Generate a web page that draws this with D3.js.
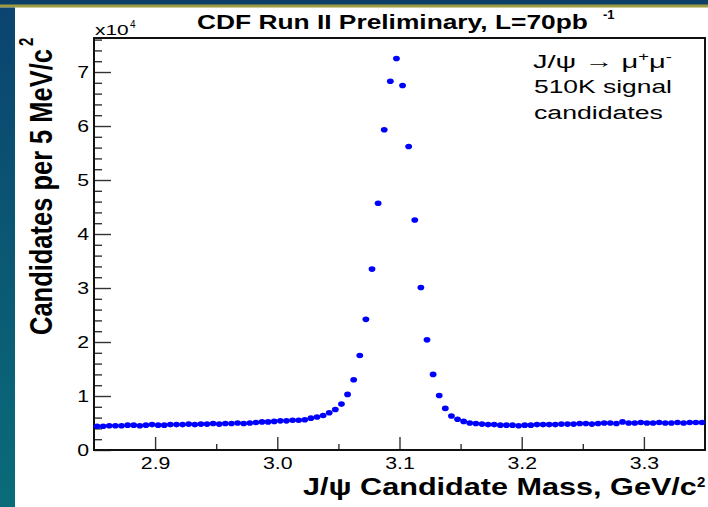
<!DOCTYPE html>
<html>
<head>
<meta charset="utf-8">
<script src="https://cdn.jsdelivr.net/npm/d3@7"></script>
<style>
  html, body { margin: 0; padding: 0; background: #fff; }
  svg { display: block; }
  text { font-family: "Liberation Sans", Arial, Helvetica, sans-serif; fill: #000; }
</style>
</head>
<body>
<svg id="chart" width="708" height="507"></svg>
<script>
// J/psi -> mu+ mu- candidate mass spectrum, 5 MeV bins from 2.85 to 3.35 GeV/c^2
const massLow = 2.85;
const massHigh = 3.35;
const binWidth = 0.005;

const candidateCounts = [
  4400, 4400, 4500, 4500, 4500, 4600, 4600, 4500, 4600, 4700,
  4600, 4600, 4700, 4700, 4700, 4800, 4700, 4800, 4800, 4900,
  4800, 4900, 4900, 5000, 4900, 5000, 5100, 5200, 5200, 5300,
  5400, 5400, 5500, 5500, 5600, 5900, 6100, 6400, 6900, 7500,
  8500, 10300, 13000, 17500, 24200, 33500, 45700, 59300, 68300, 72500,
  67500, 56200, 42600, 30100, 20400, 14000, 10100, 7700, 6300, 5700,
  5300, 5000, 4900, 4800, 4700, 4700, 4600, 4600, 4600, 4500,
  4600, 4600, 4700, 4700, 4700, 4700, 4800, 4800, 4800, 4900,
  4900, 4800, 4900, 5000, 5000, 4900, 5200, 5000, 5000, 5100,
  5000, 5000, 5100, 5000, 5000, 5100, 5000, 5100, 5100, 5100
];

const xMajorTicks = [2.9, 3.0, 3.1, 3.2, 3.3];
const xMinorTicks = [2.95, 3.05, 3.15, 3.25];
const yMajorTicks = [0, 10000, 20000, 30000, 40000, 50000, 60000, 70000];
const yTickLabels = ["0", "1", "2", "3", "4", "5", "6", "7"];
const yMax = 76300;

const bins = candidateCounts.map((count, i) => ({
  mass: massLow + (i + 0.5) * binWidth,
  count
}));

const svg = d3.select("#chart");
const W = 708, H = 507;
const frame = { left: 94, right: 705, top: 38, bottom: 450 };

// slide background: dark top band, olive rule, blue gradient strip at the left
const defs = svg.append("defs");
const grad = defs.append("linearGradient").attr("id", "sideGrad")
  .attr("x1", 0).attr("y1", 0).attr("x2", 0).attr("y2", 1);
grad.append("stop").attr("offset", "0%").attr("stop-color", "#0b4470");
grad.append("stop").attr("offset", "100%").attr("stop-color", "#0a6c79");

svg.append("rect").attr("width", W).attr("height", H).attr("fill", "#fff");
svg.append("rect").attr("x", 0).attr("y", 0).attr("width", W).attr("height", 5).attr("fill", "#0b3f68");
svg.append("rect").attr("x", 0).attr("y", 4.5).attr("width", W).attr("height", 3).attr("fill", "#9d9b3f");
svg.append("rect").attr("x", 0).attr("y", 7.5).attr("width", 15).attr("height", H - 7.5).attr("fill", "url(#sideGrad)");

const x = d3.scaleLinear().domain([massLow, massHigh]).range([frame.left, frame.right]);
const y = d3.scaleLinear().domain([0, yMax]).range([frame.bottom, frame.top]);

const SX = 1.25; // horizontal stretch of the lettering

function stretchLabels(g) {
  g.selectAll(".tick text").each(function () {
    const t = d3.select(this);
    const tx = +t.attr("x") || 0;
    t.attr("x", 0).attr("transform", `translate(${tx},0) scale(${SX},1)`);
  });
}

// x axis: major and minor ticks pointing into the frame
const xAxisG = svg.append("g").attr("transform", `translate(0,${frame.bottom})`)
  .call(d3.axisBottom(x).tickValues(xMajorTicks).tickSize(-13).tickPadding(7)
    .tickFormat(d3.format(".1f")));
svg.append("g").attr("transform", `translate(0,${frame.bottom})`)
  .call(d3.axisBottom(x).tickValues(xMinorTicks).tickSize(-6).tickFormat(""))
  .call(g => g.select(".domain").remove());

// y axis
const yMinor = d3.range(2000, yMax, 2000).filter(v => v % 10000 !== 0);
const yAxisG = svg.append("g").attr("transform", `translate(${frame.left},0)`)
  .call(d3.axisLeft(y).tickValues(yMajorTicks).tickSize(-17).tickPadding(5)
    .tickFormat((d, i) => yTickLabels[i]));
svg.append("g").attr("transform", `translate(${frame.left},0)`)
  .call(d3.axisLeft(y).tickValues(yMinor).tickSize(-8).tickFormat(""))
  .call(g => g.select(".domain").remove());

svg.selectAll(".tick line").attr("stroke", "#333").attr("stroke-width", 1.4);
[xAxisG, yAxisG].forEach(g => {
  g.select(".domain").remove();
  g.selectAll(".tick text").attr("font-size", 17).attr("fill", "#111")
    .attr("font-family", "'Liberation Sans', Arial, sans-serif");
  stretchLabels(g);
});

// frame
svg.append("rect")
  .attr("x", frame.left).attr("y", frame.top)
  .attr("width", frame.right - frame.left).attr("height", frame.bottom - frame.top)
  .attr("fill", "none").attr("stroke", "#111").attr("stroke-width", 2);

// data points
svg.append("g").selectAll("ellipse").data(bins).join("ellipse")
  .attr("cx", d => x(d.mass))
  .attr("cy", d => y(d.count))
  .attr("rx", 3.4).attr("ry", 2.8)
  .attr("fill", "#0000ff");

// text placed at (px, py) and stretched horizontally to span a given width
function fitted(px, py, width, build, attrs = {}) {
  const t = svg.append("text").attr("x", 0).attr("y", 0);
  Object.entries(attrs).forEach(([k, v]) => t.attr(k, v));
  build(t);
  const w = t.node().getBBox().width;
  t.attr("transform", `translate(${px},${py}) scale(${width / w},1)`);
  return t;
}

// title
fitted(197, 29, 391, t => t.text("CDF Run II Preliminary, L=70pb"),
  { "font-size": 20, "font-weight": "bold" });
svg.append("text").attr("x", 603).attr("y", 19).attr("font-size", 13)
  .attr("font-weight", "bold").text("-1");

// axis multiplier
fitted(95, 35, 34, t => t.text("x10"), { "font-size": 14 });
svg.append("text").attr("x", 130).attr("y", 28).attr("font-size", 10).text("4");

// axis titles
fitted(303, 495, 394, t => t.text("J/\u03c8 Candidate Mass, GeV/c"),
  { "font-size": 24, "font-weight": "bold" });
svg.append("text").attr("x", 697).attr("y", 487).attr("font-size", 15)
  .attr("font-weight", "bold").text("2");

// vertical title, widened across the page like the other lettering
const yTitle = svg.append("g").attr("transform", "translate(52,335) rotate(-90) scale(1,1.3)");
yTitle.append("text").attr("x", 0).attr("y", 0)
  .attr("font-size", 24).attr("font-weight", "bold")
  .attr("textLength", 286).attr("lengthAdjust", "spacingAndGlyphs")
  .text("Candidates per 5 MeV/c");
yTitle.append("text").attr("x", 289).attr("y", -14.5)
  .attr("font-size", 15).attr("font-weight", "bold")
  .text("2");

// decay and yield annotation
fitted(533, 68, 139, t => {
  t.append("tspan").text("J/\u03c8 \u2192 \u03bc");
  t.append("tspan").attr("dy", -7).attr("font-size", 12).text("+");
  t.append("tspan").attr("dy", 7).text("\u03bc");
  t.append("tspan").attr("dy", -7).attr("font-size", 12).text("-");
}, { "font-size": 19 });
fitted(534, 93, 138, t => t.text("510K signal"), { "font-size": 19 });
fitted(534, 119, 129, t => t.text("candidates"), { "font-size": 19 });
</script>
</body>
</html>
